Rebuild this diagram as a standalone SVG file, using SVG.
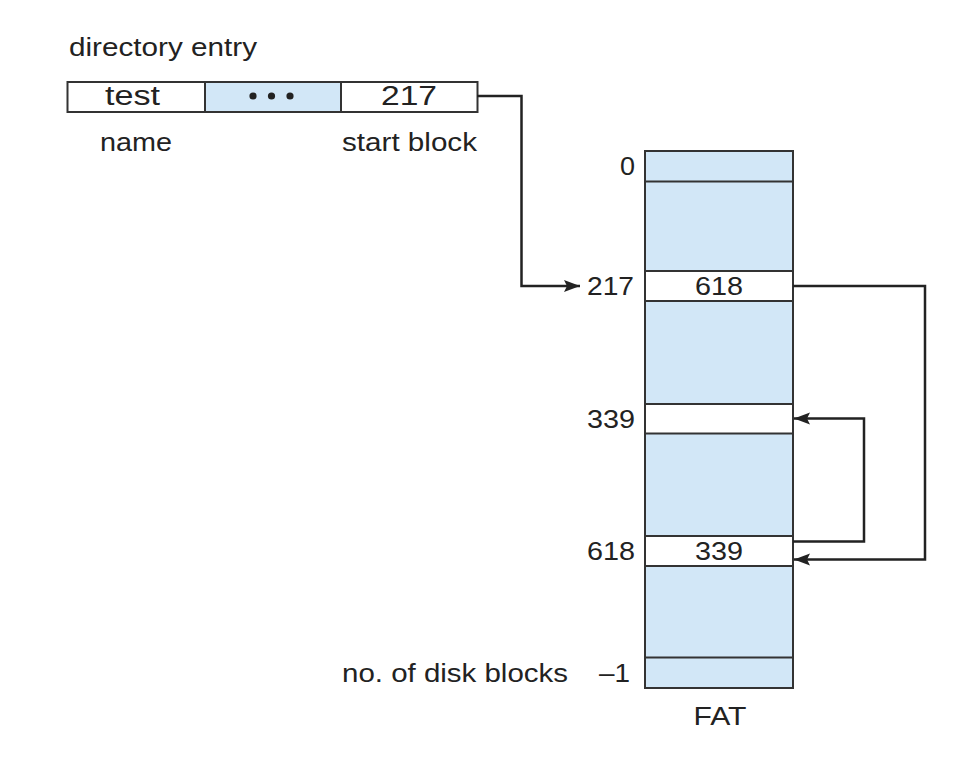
<svg xmlns="http://www.w3.org/2000/svg" width="974" height="780" viewBox="0 0 974 780">
<style>
text{font-family:"Liberation Sans",Arial,sans-serif;fill:#222;font-size:25px}
.c{text-anchor:middle}
.big{font-size:27px}
.blue{fill:#d2e7f7;stroke:#333;stroke-width:2}
.white{fill:#fff;stroke:#333;stroke-width:2}
.conn{fill:none;stroke:#222;stroke-width:2.5}
</style>
<defs>
<marker id="ah" markerUnits="userSpaceOnUse" markerWidth="18" markerHeight="14" refX="16" refY="7" orient="auto">
<path d="M0,1 L16,7 L0,13 L3,7 Z" fill="#222"/>
</marker>
</defs>
<rect width="974" height="780" fill="#fff"/>
<g id="dir-entry">
<text x="69" y="56" textLength="188" lengthAdjust="spacingAndGlyphs">directory entry</text>
<rect class="white" x="67.5" y="82" width="137.5" height="30"/>
<rect class="blue" x="205" y="82" width="136" height="30"/>
<rect class="white" x="341" y="82" width="136.5" height="30"/>
<text x="132.5" y="105" class="c big" textLength="55" lengthAdjust="spacingAndGlyphs">test</text>
<circle cx="253" cy="96" r="3.6" fill="#222"/>
<circle cx="271.5" cy="96" r="3.6" fill="#222"/>
<circle cx="290" cy="96" r="3.6" fill="#222"/>
<text x="409" y="105" class="c big" textLength="56" lengthAdjust="spacingAndGlyphs">217</text>
<text x="100" y="151" textLength="72" lengthAdjust="spacingAndGlyphs">name</text>
<text x="342" y="151" textLength="135" lengthAdjust="spacingAndGlyphs">start block</text>
</g>
<g id="fat">
<rect class="blue" x="645" y="151" width="148" height="537"/>
<rect class="blue" x="645" y="151" width="148" height="30.5"/>
<rect class="white" x="645" y="271" width="148" height="30"/>
<rect class="white" x="645" y="404" width="148" height="29.5"/>
<rect class="white" x="645" y="536" width="148" height="30"/>
<rect class="blue" x="645" y="657.5" width="148" height="30.5"/>
<text x="719" y="295" class="c" textLength="48" lengthAdjust="spacingAndGlyphs">618</text>
<text x="719" y="560" class="c" textLength="48" lengthAdjust="spacingAndGlyphs">339</text>
<text x="620" y="175" textLength="15" lengthAdjust="spacingAndGlyphs">0</text>
<text x="587" y="295" textLength="47" lengthAdjust="spacingAndGlyphs">217</text>
<text x="587" y="428" textLength="48" lengthAdjust="spacingAndGlyphs">339</text>
<text x="587" y="560" textLength="48" lengthAdjust="spacingAndGlyphs">618</text>
<text x="342" y="682" textLength="226" lengthAdjust="spacingAndGlyphs">no. of disk blocks</text>
<text x="599" y="682" textLength="31" lengthAdjust="spacingAndGlyphs">–1</text>
<text x="720" y="725" class="c" textLength="53" lengthAdjust="spacingAndGlyphs">FAT</text>
</g>
<g id="connectors">
<path class="conn" d="M477,96 H521.5 V286 H580" marker-end="url(#ah)"/>
<path class="conn" d="M793,286 H925 V559.5 H794" marker-end="url(#ah)"/>
<path class="conn" d="M793,541.5 H864 V418.5 H794" marker-end="url(#ah)"/>
</g>
</svg>
